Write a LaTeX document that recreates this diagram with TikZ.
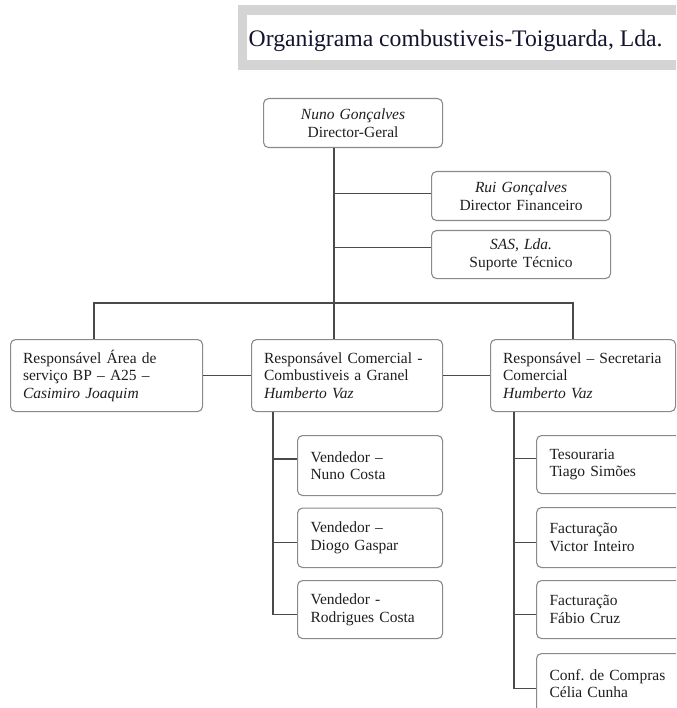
\documentclass[tikz,border=0pt]{standalone}
\usepackage{fontspec}
\setmainfont{Liberation Serif}
\frenchspacing
\definecolor{boxgray}{HTML}{8A8A8A}
\definecolor{linegray}{HTML}{4A4A4A}
\definecolor{titlegray}{HTML}{D4D4D4}
\definecolor{txt}{HTML}{1E1E1E}
\definecolor{titletxt}{HTML}{14142E}
\begin{document}
\begin{tikzpicture}[x=1pt,y=-1pt]
\tikzset{
  box/.style={draw=boxgray, line width=1.1pt, rounded corners=5pt, fill=white,
    inner xsep=12.5pt, inner ysep=0pt, anchor=north west, text=txt,
    font=\fontsize{15.5}{17.5}\selectfont},
  cbox/.style={box, align=center},
  lbox/.style={box, align=left},
  subbox/.style={lbox, inner xsep=13pt, text width=119pt},
  rsubbox/.style={lbox, inner xsep=13pt, text width=140pt},
  conn/.style={draw=linegray, line width=1.4pt},
}
\useasboundingbox (0,0) rectangle (676,708);
\clip (0,0) rectangle (676,708);
% title
\fill[titlegray] (238,5) rectangle (676,70);
\fill[white] (247,15) rectangle (676,60);
\node[anchor=base west, inner sep=0pt, text=titletxt, font=\fontsize{23.7}{26}\selectfont] (title) at (248.5,47) {Organigrama combustiveis-Toiguarda, Lda.};
% top
\node[cbox, text width=154pt, minimum height=49pt] (T) at (263,98) {{\itshape Nuno Gonçalves}\\Director-Geral};
\node[cbox, text width=154pt, minimum height=49pt] (R1) at (431,171) {{\itshape Rui Gonçalves}\\Director Financeiro};
\node[cbox, text width=154pt, minimum height=48pt] (R2) at (431,230) {{\itshape SAS, Lda.}\\Suporte Técnico};
% level 2
\node[lbox, text width=167pt, minimum height=72pt] (L) at (10,339) {Responsável Área de\\serviço BP – A25 –\\{\itshape Casimiro Joaquim}};
\node[lbox, text width=166pt, minimum height=72pt] (M) at (251,339) {Responsável Comercial -\\Combustiveis a Granel\\{\itshape Humberto Vaz}};
\node[lbox, text width=160pt, minimum height=72pt] (S) at (490,339) {Responsável – Secretaria\\Comercial\\{\itshape Humberto Vaz}};
% middle subordinates
\node[subbox, minimum height=60pt] (V1) at (297,435) {Vendedor –\\Nuno Costa};
\node[subbox, minimum height=59.5pt] (V2) at (297,507.5) {Vendedor –\\Diogo Gaspar};
\node[subbox, minimum height=58pt] (V3) at (297,580) {Vendedor -\\Rodrigues Costa};
% right subordinates (cut by the picture's right edge)
\node[rsubbox, minimum height=58pt] (Z1) at (536,435) {Tesouraria\\Tiago Simões};
\node[rsubbox, minimum height=60pt] (Z2) at (536,507) {Facturação\\Victor Inteiro};
\node[rsubbox, minimum height=58pt] (Z3) at (536,580) {Facturação\\Fábio Cruz};
\node[rsubbox, minimum height=60pt] (Z4) at (536,653) {Conf. de Compras\\Célia Cunha};
% coordinates
\coordinate (tk) at (334,0);
\coordinate (bl) at (94,303);
\coordinate (br) at (573,303);
\coordinate (mt) at (273,0);
\coordinate (st) at (514,0);
\path ([yshift=2.5pt]R1.west) coordinate (r1c);
\path ([yshift=7pt]R2.west) coordinate (r2c);
\path ([yshift=6.5pt]V1.west) coordinate (v1c);
\path ([yshift=-4.5pt]V2.west) coordinate (v2c);
\path ([yshift=-5pt]V3.west) coordinate (v3c);
\path ([yshift=6pt]Z1.west) coordinate (z1c);
\path ([yshift=-5pt]Z2.west) coordinate (z2c);
\path ([yshift=-5pt]Z3.west) coordinate (z3c);
\path ([yshift=-5pt]Z4.west) coordinate (z4c);
% connectors
\draw[conn] (T.south -| tk) -- (M.north -| tk);
\draw[conn] (tk |- r1c) -- (r1c);
\draw[conn] (tk |- r2c) -- (r2c);
\draw[conn] (L.north -| bl) -- (bl) -- (br) -- (S.north -| br);
\draw[conn] (L.east) -- (M.west);
\draw[conn] (M.east) -- (S.west);
\draw[conn] (M.south -| mt) |- (v3c);
\draw[conn] (mt |- v1c) -- (v1c);
\draw[conn] (mt |- v2c) -- (v2c);
\draw[conn] (S.south -| st) |- (z4c);
\draw[conn] (st |- z1c) -- (z1c);
\draw[conn] (st |- z2c) -- (z2c);
\draw[conn] (st |- z3c) -- (z3c);
\end{tikzpicture}
\end{document}
